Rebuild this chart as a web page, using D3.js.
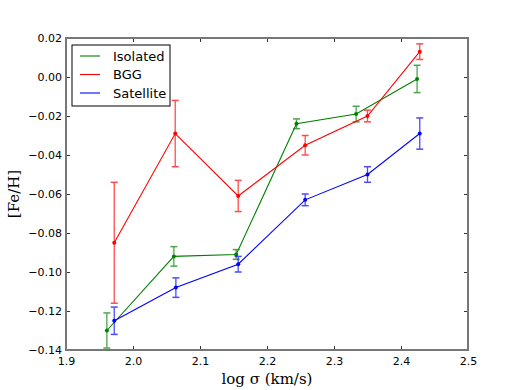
<!DOCTYPE html>
<html lang="en">
<head>
<meta charset="UTF-8">
<script src="https://cdn.jsdelivr.net/npm/d3@7"></script>
<title>[Fe/H] vs log sigma</title>
<style>
    body { margin: 0; background: white; }
    .tick text { font-family: "DejaVu Sans", sans-serif; font-size: 11px; fill: black; }
    .label { font-family: "DejaVu Serif", serif; font-size: 15px; }
    .legend text { font-family: "DejaVu Sans", sans-serif; font-size: 13px; }
</style>
</head>
<body>
<div id="chart"></div>
<script>
    // values
    var seriesNames = ["Isolated", "BGG", "Satellite"];
    var seriesColors = ["green", "red", "blue"];

    var isoX = [1.961, 2.061, 2.154, 2.244, 2.333, 2.424];
    var isoY = [-0.130, -0.092, -0.091, -0.024, -0.019, -0.001];
    var isoErr = [0.009, 0.005, 0.0025, 0.0025, 0.004, 0.007];

    var bggX = [1.972, 2.063, 2.157, 2.257, 2.350, 2.428];
    var bggY = [-0.085, -0.029, -0.061, -0.035, -0.020, 0.013];
    var bggErr = [0.031, 0.017, 0.008, 0.005, 0.003, 0.004];

    var satX = [1.972, 2.064, 2.157, 2.257, 2.350, 2.428];
    var satY = [-0.125, -0.108, -0.096, -0.063, -0.050, -0.029];
    var satErr = [0.007, 0.005, 0.004, 0.003, 0.004, 0.008];

    var xTicks = [1.9, 2.0, 2.1, 2.2, 2.3, 2.4, 2.5];
    var yTicks = [0.02, 0.00, -0.02, -0.04, -0.06, -0.08, -0.10, -0.12, -0.14];

    var W = 520, H = 390;
    var margin = {top: 38, right: 52, bottom: 40, left: 66};
    var width = W - margin.left - margin.right;
    var height = H - margin.top - margin.bottom;

    var svg = d3.select("#chart").append("svg")
        .attr("width", W)
        .attr("height", H);
    var g = svg.append("g")
        .attr("transform", "translate(" + margin.left + "," + margin.top + ")");

    var x = d3.scaleLinear().domain([1.9, 2.5]).range([0, width]);
    var y = d3.scaleLinear().domain([-0.14, 0.02]).range([height, 0]);

    var fmtX = d3.format(".1f");
    var fmtY = function(d) { return d3.format(".2f")(d).replace("-", "\u2212"); };

    // ticks (inward, on all four sides)
    function styleAxis(sel) {
        sel.select(".domain").remove();
        sel.selectAll(".tick line").attr("stroke", "black").attr("stroke-width", 0.8);
    }
    g.append("g")
        .attr("transform", "translate(0," + height + ")")
        .call(d3.axisBottom(x).tickValues(xTicks).tickFormat(fmtX).tickSizeInner(-4).tickPadding(7))
        .call(styleAxis);
    g.append("g")
        .call(d3.axisTop(x).tickValues(xTicks).tickFormat("").tickSizeInner(-4))
        .call(styleAxis);
    g.append("g")
        .call(d3.axisLeft(y).tickValues(yTicks).tickFormat(fmtY).tickSizeInner(-4).tickPadding(4))
        .call(styleAxis);
    g.append("g")
        .attr("transform", "translate(" + width + ",0)")
        .call(d3.axisRight(y).tickValues(yTicks).tickFormat("").tickSizeInner(-4))
        .call(styleAxis);

    var series = [
        {xs: isoX, ys: isoY, es: isoErr},
        {xs: bggX, ys: bggY, es: bggErr},
        {xs: satX, ys: satY, es: satErr}
    ];

    var line = d3.line()
        .x(function(d) { return x(d.x); })
        .y(function(d) { return y(d.y); });

    series.forEach(function(s, i) {
        var pts = s.xs.map(function(v, j) { return {x: v, y: s.ys[j], e: s.es[j]}; });
        var col = seriesColors[i];
        var sg = g.append("g");

        var eb = sg.selectAll(".err").data(pts).enter().append("g")
            .attr("opacity", 0.7);
        eb.append("line")
            .attr("x1", function(d) { return x(d.x); })
            .attr("x2", function(d) { return x(d.x); })
            .attr("y1", function(d) { return y(d.y + d.e); })
            .attr("y2", function(d) { return y(d.y - d.e); })
            .attr("stroke", col).attr("stroke-width", 1.3);
        [1, -1].forEach(function(sgn) {
            eb.append("line")
                .attr("x1", function(d) { return x(d.x) - 3.5; })
                .attr("x2", function(d) { return x(d.x) + 3.5; })
                .attr("y1", function(d) { return y(d.y + sgn * d.e); })
                .attr("y2", function(d) { return y(d.y + sgn * d.e); })
                .attr("stroke", col).attr("stroke-width", 1.5);
        });

        sg.append("path")
            .datum(pts)
            .attr("fill", "none")
            .attr("stroke", col)
            .attr("stroke-width", 1.1)
            .attr("d", line);

        sg.selectAll("circle").data(pts).enter().append("circle")
            .attr("cx", function(d) { return x(d.x); })
            .attr("cy", function(d) { return y(d.y); })
            .attr("r", 2)
            .attr("fill", col);
    });

    // frame
    g.append("rect")
        .attr("width", width).attr("height", height)
        .attr("fill", "none")
        .attr("stroke", "#777")
        .attr("stroke-width", 2);

    // legend
    var lg = g.append("g").attr("class", "legend")
        .attr("transform", "translate(6,7)");
    lg.append("rect")
        .attr("width", 98).attr("height", 61)
        .attr("fill", "white")
        .attr("stroke", "black")
        .attr("stroke-width", 1);
    seriesNames.forEach(function(name, i) {
        var yy = 11 + i * 18.5;
        lg.append("line")
            .attr("x1", 8).attr("x2", 28)
            .attr("y1", yy).attr("y2", yy)
            .attr("stroke", seriesColors[i]).attr("stroke-width", 1.1);
        lg.append("text")
            .attr("x", 41).attr("y", yy + 4.5)
            .text(name);
    });

    // axis labels
    svg.append("text")
        .attr("class", "label")
        .attr("x", margin.left + width / 2)
        .attr("y", H - 6)
        .attr("text-anchor", "middle")
        .text("log \u03c3 (km/s)");
    svg.append("text")
        .attr("class", "label")
        .attr("transform", "translate(19," + (margin.top + height / 2) + ") rotate(-90)")
        .attr("text-anchor", "middle")
        .text("[Fe/H]");
</script>
</body>
</html>
